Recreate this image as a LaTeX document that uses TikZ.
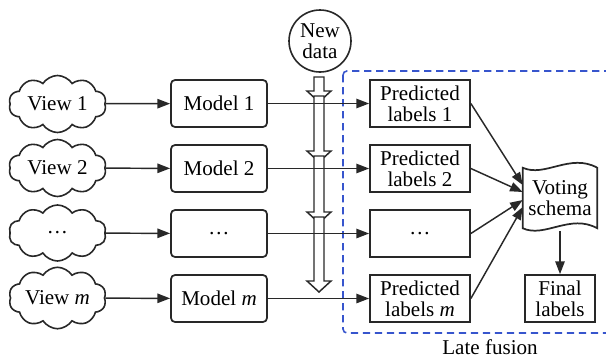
\documentclass[tikz,border=0pt]{standalone}
\usepackage{fontspec}
\setmainfont{Liberation Serif}
\usetikzlibrary{arrows.meta,shapes.symbols,calc}
\definecolor{linec}{RGB}{40,40,40}
\definecolor{fusionblue}{RGB}{55,85,205}
\begin{document}
\begin{tikzpicture}[x=0.75pt,y=-0.75pt,
  txt/.style={font=\fontsize{15.8}{15.5}\selectfont,align=center,text=black},
  viewcloud/.style={txt,cloud,cloud puffs=10,cloud puff arc=115,aspect=1.9,draw=linec,line width=1.2pt,minimum width=73pt,minimum height=42pt,inner sep=0pt},
  modelbox/.style={txt,draw=linec,line width=1.3pt,rounded corners=3pt,minimum width=72pt,minimum height=35.25pt,inner sep=1pt},
  predbox/.style={txt,draw=linec,line width=1.3pt,minimum width=75pt,minimum height=35.25pt,inner sep=1pt},
  conn/.style={draw=linec,line width=1.1pt,-{Triangle[length=9.5pt,width=7pt]}},
  hollow/.style={draw=linec,fill=white,line width=1.1pt,line join=miter}
]
\useasboundingbox (0,0) rectangle (606,358);

% late fusion frame
\draw[fusionblue,line width=1.2pt,dash pattern=on 5.5pt off 3.5pt,rounded corners=3pt] (343,71) rectangle (640,333);
\node[txt] (late) at (490,347) {Late fusion};

% new data
\node[txt,circle,draw=linec,line width=1.2pt,minimum size=46.5pt,inner sep=0pt] (new) at (320,41) {New\\data};

% hollow arrows
\foreach \ys/\yt in {77/102, 96/162, 156/223, 217/292}{
  \draw[hollow] (314,\ys) -- (314,\yt-11) -- (307,\yt-11) -- (319,\yt) -- (331,\yt-11) -- (324,\yt-11) -- (324,\ys) -- cycle;
}

% rows
\node[viewcloud] (v1) at (57.5,104) {View 1};
\node[viewcloud] (v2) at (57.5,168) {View 2};
\node[viewcloud] (v3) at (57.5,233) {\dots};
\node[viewcloud] (v4) at (57.5,298) {View \textit{m}};

\node[modelbox] (m1) at (219,103.5) {Model 1};
\node[modelbox] (m2) at (219,168.5) {Model 2};
\node[modelbox] (m3) at (219,233.5) {\dots};
\node[modelbox] (m4) at (219,298.5) {Model \textit{m}};

\node[predbox] (p1) at (420,103.5) {Predicted\\labels 1};
\node[predbox] (p2) at (420,168.5) {Predicted\\labels 2};
\node[predbox] (p3) at (420,233.5) {\dots};
\node[predbox] (p4) at (420,298.5) {Predicted\\labels \textit{m}};

\foreach \i in {1,2,3,4}{
  \draw[conn] (v\i) -- (m\i);
  \draw[conn] (m\i) -- (p\i);
}

% voting schema
\node[txt,minimum width=55.5pt,minimum height=45pt,inner sep=0pt] (vote) at (560,198) {};
\draw[draw=linec,line width=1.3pt,fill=white] (vote.north west) .. controls +(22,10) and +(-27,-15) .. (vote.north east)
  -- (vote.south east) .. controls +(-27,-15) and +(22,10) .. (vote.south west) -- cycle;
\node[txt] (votetext) at (vote) {Voting\\schema};

\node[predbox,minimum width=52.5pt] (final) at (560,298.5) {Final\\labels};

\draw[conn] (p1.east) -- ([yshift=9.75pt]vote.west);
\draw[conn] (p2.east) -- ([yshift=4.5pt]vote.west);
\draw[conn] (p3.east) -- ([yshift=-1.5pt]vote.west);
\draw[conn] (p4.east) -- ([yshift=-6.75pt]vote.west);
\draw[conn] ([yshift=-2pt]vote.south) -- (final.north);
\end{tikzpicture}
\end{document}
